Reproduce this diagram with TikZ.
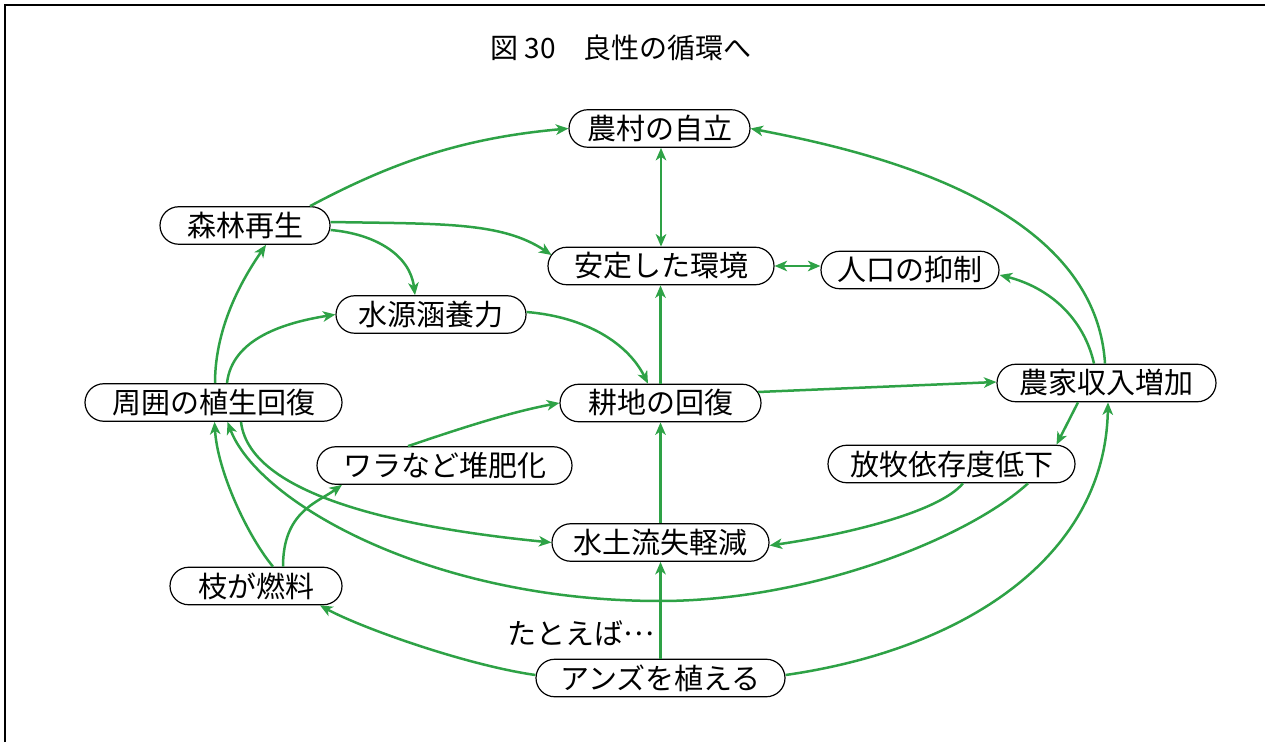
\documentclass[tikz,border=0pt]{standalone}
\usepackage{fontspec}
\setmainfont{Noto Sans CJK JP}
\usetikzlibrary{arrows.meta}
\definecolor{gline}{RGB}{46,162,70}
\tikzset{
  box/.style={draw=black, line width=1.2pt, rounded corners=18.75pt, minimum height=37.5pt,
    inner xsep=0pt, inner ysep=0pt, text height=25.5pt, text depth=3.5pt, fill=white,
    font=\fontsize{29pt}{34pt}\selectfont},
  conn/.style={draw=gline, line width=2.5pt, -{Stealth[length=12.5pt,width=10.5pt,inset=3.5pt]}},
  bconn/.style={draw=gline, line width=2.5pt, {Stealth[length=12.5pt,width=10.5pt,inset=3.5pt]}-{Stealth[length=12.5pt,width=10.5pt,inset=3.5pt]}},
  plain/.style={font=\fontsize{29pt}{34pt}\selectfont, inner sep=0pt},
  ttl/.style={font=\fontsize{28pt}{33pt}\selectfont, inner sep=0pt},
}
\begin{document}
\begin{tikzpicture}[x=1pt,y=1pt]
\useasboundingbox (0,0) rectangle (1265,742);
\draw[line width=2pt] (5,0) -- (5,737) -- (1265,737);

\node[ttl] (tt) at (621,694) {図 30　良性の循環へ};

\node[box, minimum width=181pt] (n1) at (659.5,613.5) {農村の自立};
\node[box, minimum width=170pt] (n2) at (245,516.5) {森林再生};
\node[box, minimum width=226pt] (n3) at (661,476) {安定した環境};
\node[box, minimum width=178pt] (n4) at (910,472) {人口の抑制};
\node[box, minimum width=190pt] (n5) at (431,427.5) {水源涵養力};
\node[box, minimum width=257pt] (n6) at (213.5,339.5) {周囲の植生回復};
\node[box, minimum width=201pt] (n7) at (660.5,339) {耕地の回復};
\node[box, minimum width=219pt] (n8) at (1106.5,359) {農家収入増加};
\node[box, minimum width=255pt] (n9) at (444.5,276.5) {ワラなど堆肥化};
\node[box, minimum width=247pt] (n10) at (951.5,278) {放牧依存度低下};
\node[box, minimum width=217pt] (n11) at (660.5,199.5) {水土流失軽減};
\node[box, minimum width=172pt] (n12) at (256,156) {枝が燃料};
\node[box, minimum width=249pt] (n13) at (660.5,64) {アンズを植える};
\node[plain] (lb) at (581,109) {たとえば\raisebox{0.3em}{…}};
\coordinate (m10) at (660,141);

% curves
\draw[conn] ([xshift=65pt]n2.north) .. controls +(88,47) and +(-100,-9) .. (n1.west);
\draw[conn] ([yshift=3.5pt]n2.east) .. controls +(110,-2) and +(-50,33.5) .. ([shift={(-109.5,11)}]n3.center);
\draw[conn] ([yshift=-4.5pt]n2.east) .. controls +(45,-4) and +(-5,40) .. ([xshift=-16pt]n5.north);
\draw[conn] ([xshift=1.5pt]n6.north) .. controls +(0,60) and +(-20,-29) .. ([xshift=21pt]n2.south);
\draw[conn] ([xshift=13.5pt]n6.north) .. controls +(5,45) and +(-50,-8) .. (n5.west);
\draw[conn] ([xshift=27.5pt]n6.south) .. controls +(9,-78) and +(-132,13) .. (n11.west);
\draw[conn] ([xshift=17pt]n12.north) .. controls +(-25,30) and +(3,-50) .. ([xshift=1pt]n6.south);
\draw[conn] ([xshift=27pt]n12.north) .. controls +(0,55) and +(-25,-18) .. ([xshift=-102.5pt]n9.south);
\draw[conn] ([xshift=-36.5pt]n9.north) .. controls +(50,17) and +(-49,-9) .. (n7.west);
\draw[conn] ([xshift=76.5pt]n10.south) .. controls +(-60,-55) and +(150,0) .. (m10)
  .. controls +(-230,0) and +(30,-80) .. ([xshift=14pt]n6.south);
\draw[conn] ([xshift=11.5pt]n10.south) .. controls +(-25,-30) and +(70,10) .. ([yshift=-3pt]n11.east);
\draw[conn] ([xshift=-28.5pt]n8.south) -- ([xshift=105pt]n10.north);
\draw[conn] ([xshift=-12.5pt]n8.north) .. controls +(-10,45) and +(50,-12.5) .. ([yshift=-5pt]n4.east);
\draw[conn] ([xshift=-1.5pt]n8.north) .. controls +(-10,164) and +(108,-21) .. (n1.east);
\draw[conn] ([yshift=3pt]n13.east) .. controls +(175,25) and +(-3,-157) .. ([xshift=1.5pt]n8.south);
\draw[conn] ([yshift=3pt]n13.west) .. controls +(-70,10) and +(40,-22) .. ([xshift=64pt]n12.south);
\draw[conn] (n13.north) -- (n11.south);
\draw[conn] (n11.north) -- (n7.south);
\draw[conn] (n7.north) -- (n7.north |- n3.south);
\draw[conn] ([shift={(-3.6,11)}]n7.east) -- ([yshift=1pt]n8.west);
\draw[conn] ([yshift=2.5pt]n5.east) .. controls +(60,-5) and +(-20,40) .. ([xshift=-12.5pt]n7.north);
\draw[bconn] (n3.north) -- (n3.north |- n1.south);
\draw[bconn] (n3.east) -- (n3.east -| n4.west);
\end{tikzpicture}
\end{document}
